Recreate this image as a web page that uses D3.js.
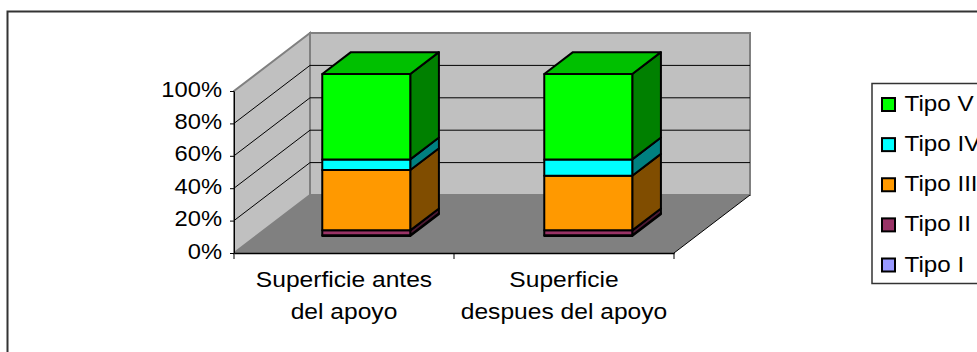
<!DOCTYPE html>
<meta charset="utf-8">
<style>
body { margin: 0; background: white; overflow: hidden; }
svg { display: block; }
text { font-family: "Liberation Sans", Arial, sans-serif; fill: black; }
</style>
<body>
<svg width="977" height="352"></svg>
<script src="https://d3js.org/d3.v7.min.js"></script>
<script>
const categories = ['Superficie antes del apoyo', 'Superficie despues del apoyo'];
const categoryLines = [['Superficie antes', 'del apoyo'], ['Superficie', 'despues del apoyo']];
const seriesNames = ['Tipo I', 'Tipo II', 'Tipo III', 'Tipo IV', 'Tipo V'];
const tipoI = [0.5, 0.5];
const tipoII = [3, 3];
const tipoIII = [37.2, 33.7];
const tipoIV = [6.6, 10.1];
const tipoV = [52.7, 52.7];
const yTicks = [0, 20, 40, 60, 80, 100];

const seriesValues = [tipoI, tipoII, tipoIII, tipoIV, tipoV];
const front = ['#9999ff', '#993366', '#ff9900', '#00ffff', '#00ff00'];
const side = ['#4d4d80', '#4d1a33', '#804d00', '#008080', '#008000'];
const top_ = ['#7a7acc', '#7a2952', '#cc7a00', '#00cccc', '#00c000'];

const svg = d3.select('svg');

// the original text is a bit wider than Liberation at the same height
function stretch(sel, k) {
  sel.each(function() {
    this.setAttribute('textLength', this.getComputedTextLength() * k);
    this.setAttribute('lengthAdjust', 'spacingAndGlyphs');
  });
}

// outer frame, right and bottom run off the picture
svg.append('rect').attr('x', 7.5).attr('y', 11.5).attr('width', 1100).attr('height', 500)
  .attr('fill', 'white').attr('stroke', '#333').attr('stroke-width', 2);

const x = d3.scaleBand().domain(categories).range([234, 674]);
const barX = d3.scaleBand().domain(categories).range([233, 677]);
const y = d3.scaleLinear().domain([0, 100]).range([253, 91]);

// depth of the box, z goes 0 (front) to 1 (back wall)
const dx = 76, dy = -58;
function px(v, z) { return v + dx * z; }
function py(v, z) { return v + dy * z; }
function poly(pts) { return pts.map(p => p.join(',')).join(' '); }

const x0 = x.range()[0], x1 = x.range()[1];
const y0 = y(0), yT = y(100);

// floor
svg.append('polygon')
  .attr('points', poly([[x0, y0], [x1, y0], [px(x1, 1), py(y0, 1)], [px(x0, 1), py(y0, 1)]]))
  .attr('fill', '#808080');
// back wall
svg.append('rect')
  .attr('x', px(x0, 1)).attr('y', py(yT, 1))
  .attr('width', x1 - x0).attr('height', y0 - yT)
  .attr('fill', '#c0c0c0').attr('stroke', '#808080').attr('stroke-width', 2);
// left wall
svg.append('polygon')
  .attr('points', poly([[x0, y0], [px(x0, 1), py(y0, 1)], [px(x0, 1), py(yT, 1)], [x0, yT]]))
  .attr('fill', '#c0c0c0').attr('stroke', '#808080').attr('stroke-width', 2);

// grid lines over both walls
const inner = yTicks.filter(t => t > 0 && t < 100);
svg.append('g').selectAll('polyline').data(inner).enter().append('polyline')
  .attr('points', d => poly([[x0, y(d)], [px(x0, 1), py(y(d), 1)], [px(x1, 1), py(y(d), 1)]]))
  .attr('fill', 'none').attr('stroke', 'black').attr('stroke-width', 1);

// floor edges
svg.append('polyline')
  .attr('points', poly([[x1, y0], [px(x1, 1), py(y0, 1)]]))
  .attr('fill', 'none').attr('stroke', 'black');

// axes
const yAxis = svg.append('g').attr('transform', `translate(${x0},0)`)
  .call(d3.axisLeft(y).tickValues(yTicks).tickSize(4).tickSizeOuter(0).tickPadding(8).tickFormat(d => d + '%'));
yAxis.selectAll('text').attr('font-size', 21.5).attr('font-family', '"Liberation Sans"').attr('dy', '0.24em');
stretch(yAxis.selectAll('text'), 1.104);
yAxis.selectAll('line').attr('stroke', 'black');
yAxis.select('.domain').attr('stroke', 'black').attr('stroke-width', 1);

const xAxis = svg.append('g').attr('transform', `translate(0,${y0})`)
  .call(d3.axisBottom(x).tickSize(0).tickFormat(''));
xAxis.select('.domain').attr('stroke', 'black').attr('stroke-width', 1.5);
xAxis.selectAll('.tick').remove();

const edges = [x0].concat(categories.map(c => x(c) + x.bandwidth()));
svg.append('g').selectAll('line').data(edges).enter().append('line')
  .attr('x1', d => d).attr('x2', d => d)
  .attr('y1', y0).attr('y2', y0 + 6)
  .attr('stroke', 'black');

const labels = svg.append('g').selectAll('text').data(categories).enter().append('text')
  .attr('text-anchor', 'middle').attr('font-size', 22.5);
labels.selectAll('tspan').data((d, i) => categoryLines[i]).enter().append('tspan')
  .attr('x', function() { return x(d3.select(this.parentNode).datum()) + x.bandwidth() / 2; })
  .attr('y', (d, i) => 287 + i * 32)
  .text(d => d);
stretch(labels.selectAll('tspan'), 1.093);

// bars
const barW = 88;
const zFront = 0.293, zBack = 0.67;
const bars = svg.append('g').attr('stroke', 'black').attr('stroke-width', 2).attr('stroke-linejoin', 'round');

categories.forEach((cat, c) => {
  const left = barX(cat) + (barX.bandwidth() - barW) / 2;
  const right = left + barW;
  let base = 0;
  seriesValues.forEach((vals, s) => {
    const lo = y(base), hi = y(base + vals[c]);
    base += vals[c];
    bars.append('polygon')
      .attr('points', poly([[px(right, zFront), py(lo, zFront)], [px(right, zBack), py(lo, zBack)], [px(right, zBack), py(hi, zBack)], [px(right, zFront), py(hi, zFront)]]))
      .attr('fill', side[s]);
    bars.append('rect')
      .attr('x', px(left, zFront)).attr('y', py(hi, zFront))
      .attr('width', barW).attr('height', lo - hi)
      .attr('fill', front[s]);
    if (s === seriesValues.length - 1) {
      bars.append('polygon')
        .attr('points', poly([[px(left, zFront), py(hi, zFront)], [px(right, zFront), py(hi, zFront)], [px(right, zBack), py(hi, zBack)], [px(left, zBack), py(hi, zBack)]]))
        .attr('fill', top_[s]);
    }
  });
});

// legend
svg.append('rect').attr('x', 872).attr('y', 83.5).attr('width', 200).attr('height', 200)
  .attr('fill', 'white').attr('stroke', '#333').attr('stroke-width', 1.5);
const legendY = d3.scalePoint().domain(seriesNames.slice().reverse()).range([104.5, 265]);
const rows = svg.append('g').selectAll('g').data(seriesNames).enter().append('g')
  .attr('transform', d => `translate(0,${legendY(d)})`);
rows.append('rect').attr('x', 882).attr('y', -6.5).attr('width', 13).attr('height', 13)
  .attr('fill', (d, i) => front[i]).attr('stroke', 'black').attr('stroke-width', 2);
const legendText = rows.append('text').attr('x', 904.5).attr('y', 6.5).attr('font-size', 22).text(d => d);
stretch(legendText, 1.1);
</script>
</body>
